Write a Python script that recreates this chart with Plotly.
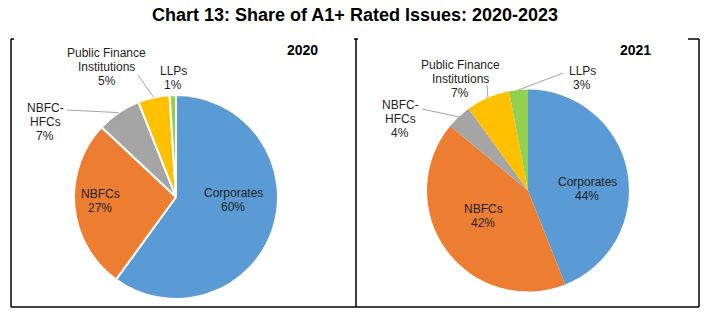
import math
import plotly.graph_objects as go

W, H = 709, 332

categories = ["Corporates", "NBFCs", "NBFC-HFCs", "Public Finance Institutions", "LLPs"]
share_2020 = [60, 27, 7, 5, 1]
share_2021 = [44, 42, 4, 7, 3]
colors = ["#5B9BD5", "#ED7D31", "#A5A5A5", "#FFC000", "#92D050"]

# Label text for each category (line breaks as printed)
label_lines = {
    "Corporates": ["Corporates"],
    "NBFCs": ["NBFCs"],
    "NBFC-HFCs": ["NBFC-", "HFCs"],
    "Public Finance Institutions": ["Public Finance", "Institutions"],
    "LLPs": ["LLPs"],
}


def px(x):
    return x / W


def py(y):
    return 1 - y / H


# Pie geometry in pixels: centre and radius for each year
pies = {
    "2020": dict(values=share_2020, cx=176, cy=197, r=102, border=2),
    "2021": dict(values=share_2021, cx=528, cy=190.5, r=101, border=0),
}

# Label anchor points (pixel centre x, first line y) per year
label_pos = {
    "2020": {
        "Corporates": (233, 193),
        "NBFCs": (100, 194),
        "NBFC-HFCs": (45, 108),
        "Public Finance Institutions": (107, 53),
        "LLPs": (173, 71),
    },
    "2021": {
        "Corporates": (587, 182),
        "NBFCs": (483, 209),
        "NBFC-HFCs": (400, 105),
        "Public Finance Institutions": (460, 65),
        "LLPs": (582, 71),
    },
}

# Leader line start points (near the label) per year
leader_start = {
    "2020": {"NBFC-HFCs": (67, 110), "Public Finance Institutions": (138, 75)},
    "2021": {
        "NBFC-HFCs": (422, 109),
        "Public Finance Institutions": (487, 85),
        "LLPs": (563, 73),
    },
}

year_title_pos = {"2020": (302, 50), "2021": (635, 50)}

fig = go.Figure()
annotations = []
shapes = []

for year, p in pies.items():
    cx, cy, r = p["cx"], p["cy"], p["r"]
    fig.add_trace(
        go.Pie(
            labels=categories,
            values=p["values"],
            sort=False,
            direction="clockwise",
            rotation=0,
            marker=dict(colors=colors, line=dict(color="white", width=p["border"])),
            textinfo="none",
            hoverinfo="label+percent",
            domain=dict(x=[px(cx - r), px(cx + r)], y=[py(cy + r), py(cy - r)]),
        )
    )

    total = sum(p["values"])
    cum = 0
    for cat, v in zip(categories, p["values"]):
        mid = (cum + v / 2) / total * 2 * math.pi
        cum += v
        # text lines
        lx, ly = label_pos[year][cat]
        lines = label_lines[cat] + [f"{v}%"]
        for i, t in enumerate(lines):
            annotations.append(
                dict(
                    x=px(lx), y=py(ly + i * 14), xref="paper", yref="paper",
                    text=t, showarrow=False, xanchor="center", yanchor="middle",
                    font=dict(family="Liberation Sans, Arial", size=12, color="#1e1e1e"),
                )
            )
        # leader line to the slice edge
        if cat in leader_start[year]:
            sx, sy = leader_start[year][cat]
            ex = cx + r * math.sin(mid)
            ey = cy - r * math.cos(mid)
            shapes.append(
                dict(type="line", xref="paper", yref="paper",
                     x0=px(sx), y0=py(sy), x1=px(ex), y1=py(ey),
                     line=dict(color="#A6A6A6", width=1))
            )

    tx, ty = year_title_pos[year]
    annotations.append(
        dict(x=px(tx), y=py(ty), xref="paper", yref="paper", text=f"<b>{year}</b>",
             showarrow=False, xanchor="center", yanchor="middle",
             font=dict(family="Liberation Sans, Arial", size=14, color="black"))
    )

# Panel frames
frame = dict(color="black", width=1.5)
for x0, y0, x1, y1 in [
    (11, 39, 11, 307), (356, 39, 356, 307), (699, 39, 699, 307),
    (11, 307, 699, 307),
    (11, 39, 14, 39), (354, 39, 358, 39), (688, 39, 699, 39),
]:
    shapes.append(dict(type="line", xref="paper", yref="paper",
                       x0=px(x0), y0=py(y0), x1=px(x1), y1=py(y1), line=frame))

fig.update_layout(
    width=W, height=H,
    margin=dict(l=0, r=0, t=0, b=0),
    paper_bgcolor="white", plot_bgcolor="white",
    showlegend=False,
    title=dict(
        text="<b>Chart 13: Share of A1+ Rated Issues: 2020-2023</b>",
        x=px(355), xanchor="center", y=py(15), yanchor="middle",
        font=dict(family="Liberation Sans, Arial", size=18, color="black"),
    ),
    annotations=annotations,
    shapes=shapes,
)

fig.write_html("out.html")
